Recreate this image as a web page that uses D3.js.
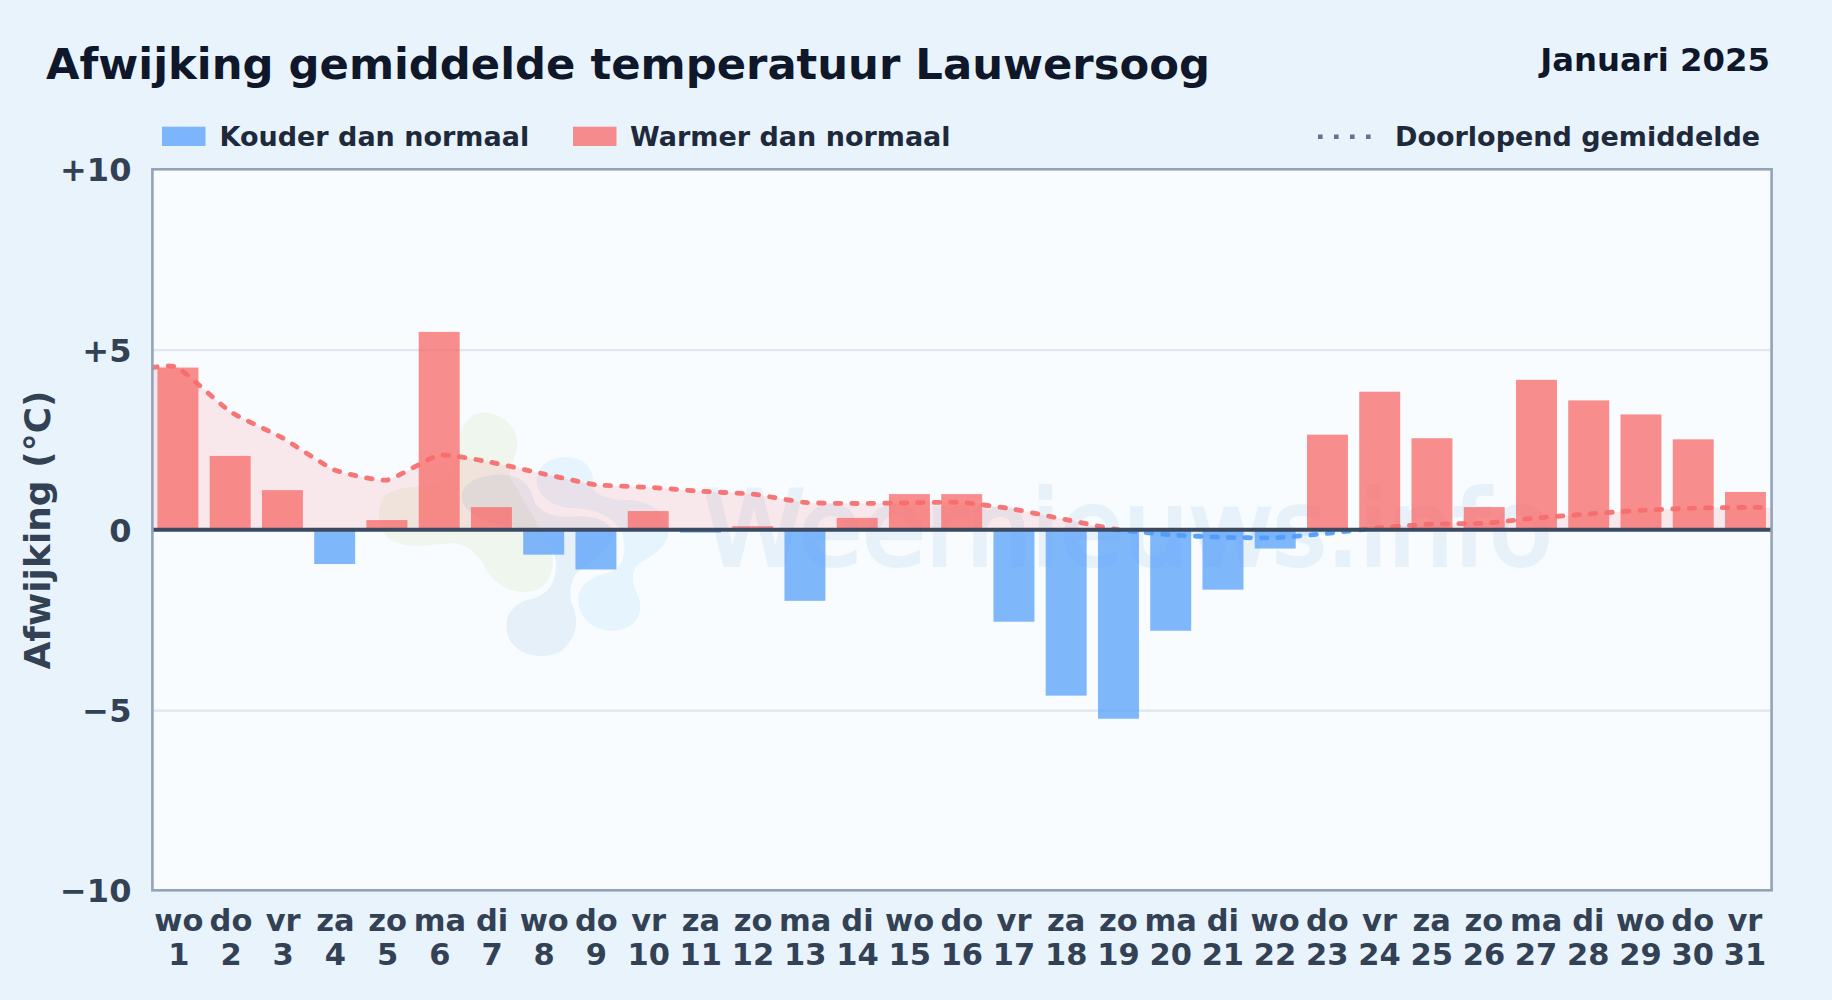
<!DOCTYPE html>
<html>
<head>
<meta charset="utf-8">
<title>Afwijking gemiddelde temperatuur Lauwersoog</title>
<script src="https://cdn.jsdelivr.net/npm/d3@7"></script>
<style>
	html, body { margin: 0; padding: 0; background: #e8f3fc; }
	svg { display: block; }
	text { font-family: "DejaVu Sans", sans-serif; font-weight: bold; }
</style>
</head>
<body>
<div id="chart"></div>
<script>
// values
const days = [1,2,3,4,5,6,7,8,9,10,11,12,13,14,15,16,17,18,19,20,21,22,23,24,25,26,27,28,29,30,31];
const dayNames = ['wo','do','vr','za','zo','ma','di','wo','do','vr','za','zo','ma','di','wo','do','vr','za','zo','ma','di','wo','do','vr','za','zo','ma','di','wo','do','vr'];
const deviation = [4.5,2.05,1.1,-0.95,0.27,5.49,0.63,-0.69,-1.1,0.52,-0.08,0.1,-1.97,0.33,0.99,0.99,-2.55,-4.6,-5.24,-2.8,-1.66,-0.52,2.64,3.83,2.54,0.63,4.16,3.59,3.2,2.51,1.05];
// running mean, stretched to both edges of the plot
const runDays = [0.5,1,2,3,4,5,6,7,8,9,10,11,12,13,14,15,16,17,18,19,20,21,22,23,24,25,26,27,28,29,30,31,31.5];
const runMean = [4.5,4.5,3.28,2.55,1.66,1.38,2.07,1.87,1.55,1.25,1.18,1.07,0.99,0.76,0.73,0.75,0.76,0.57,0.28,0,-0.14,-0.21,-0.22,-0.1,0.06,0.16,0.18,0.33,0.44,0.54,0.6,0.62,0.62];
const yTicks = [-10,-5,0,5,10];
const gridTicks = [-5,5];

let width = 1832,
	height = 1000,
	left = 152.4,
	right = 1771.6,
	top_ = 169.3,
	bottom = 890.3,
	barHalf = 0.392,
	coldColor = '#60a5fa',
	warmColor = '#f87171',
	coldLine = '#4f9bf8',
	warmLine = '#f56b6b',
	inkDark = '#0f172a',
	inkLegend = '#1e293b',
	inkAxis = '#334155';

let x = d3.scaleLinear().domain([0.5, 31.5]).range([left - 0.6, right]);
let xLabels = d3.scaleLinear().domain([0.5, 31.5]).range([152.2, 1770.5]);
let y = d3.scaleLinear().domain([-10, 10]).range([bottom, top_]);

let svg = d3.select('#chart').append('svg')
	.attr('width', width)
	.attr('height', height);

svg.append('rect').attr('width', width).attr('height', height).attr('fill', '#e8f3fc');
svg.append('rect')
	.attr('x', left).attr('y', top_)
	.attr('width', right - left).attr('height', bottom - top_)
	.attr('fill', '#f8fcff');

// clip regions above and below zero
let defs = svg.append('defs');
defs.append('clipPath').attr('id', 'above').append('rect')
	.attr('x', left).attr('y', top_)
	.attr('width', right - left).attr('height', y(0) - top_);
defs.append('clipPath').attr('id', 'below').append('rect')
	.attr('x', left).attr('y', y(0))
	.attr('width', right - left).attr('height', bottom - y(0));

// watermark logo, traced at 3x from its corner
let logo = svg.append('g').attr('transform', 'translate(360,400) scale(0.3333)');
logo.append('path')
	.attr('d', 'M370 38C430 38 475 85 472 135C470 175 445 195 450 230L560 420C590 470 585 530 540 565C490 590 420 570 385 520C360 470 330 430 270 430C210 435 130 450 85 415C50 380 45 310 85 280C120 258 170 262 215 255C270 240 290 200 295 140C298 85 320 40 370 38Z')
	.attr('fill', '#a3c95a').attr('opacity', 0.1);
logo.append('path')
	.attr('d', 'M530 240C530 195 575 170 625 172C680 175 705 215 698 255C695 280 740 300 800 300C870 300 925 340 925 395C925 440 870 470 840 490C810 510 815 550 835 590C855 640 825 690 760 692C700 695 655 650 655 600C655 560 690 530 740 520C790 510 800 460 790 410C775 360 720 330 650 325C580 325 530 290 530 240Z')
	.attr('fill', '#3aa5f0').attr('opacity', 0.09);
logo.append('path')
	.attr('d', 'M305 290C305 245 370 222 430 224C485 226 512 260 520 295C530 330 570 350 620 350C680 345 740 350 760 395C765 440 700 480 660 510C635 530 625 570 635 610C660 660 650 720 600 755C550 780 470 770 445 710C425 650 460 610 510 598C570 585 590 540 588 490C585 430 540 395 480 385C420 375 370 365 340 345C320 330 305 310 305 290Z')
	.attr('fill', '#1e6ab0').attr('opacity', 0.08);

svg.append('text')
	.attr('x', 703).attr('y', 565)
	.attr('font-size', 103)
	.attr('fill', '#2f80c8').attr('stroke', '#2f80c8').attr('stroke-width', 4)
	.style('font-weight', 'normal')
	.attr('opacity', 0.08)
	.text('Weernieuws.info');

// grid
svg.append('g')
	.attr('transform', 'translate(' + left + ',0)')
	.call(d3.axisLeft(y).tickValues(gridTicks).tickSize(-(right - left)).tickFormat(''))
	.call((g) => g.select('.domain').remove())
	.selectAll('line').attr('stroke', '#dfe6ee').attr('stroke-width', 2.2);

// area between running mean and zero
let curve = d3.curveCardinal.tension(0.5);
let area = d3.area()
	.x((d, i) => x(runDays[i]))
	.y0(y(0))
	.y1((d) => y(d))
	.curve(curve);
let line = d3.line()
	.x((d, i) => x(runDays[i]))
	.y((d) => y(d))
	.curve(curve);

svg.append('path').datum(runMean).attr('d', area)
	.attr('fill', warmColor).attr('opacity', 0.14).attr('clip-path', 'url(#above)');
svg.append('path').datum(runMean).attr('d', area)
	.attr('fill', coldColor).attr('opacity', 0.14).attr('clip-path', 'url(#below)');

// bars
svg.append('g').selectAll('rect')
	.data(deviation)
	.enter()
	.append('rect')
	.attr('x', (d, i) => x(days[i] - barHalf))
	.attr('width', (d, i) => x(days[i] + barHalf) - x(days[i] - barHalf))
	.attr('y', (d) => y(Math.max(d, 0)))
	.attr('height', (d) => Math.abs(y(d) - y(0)))
	.attr('fill', (d) => d < 0 ? coldColor : warmColor)
	.attr('opacity', 0.8);

// running mean
[['above', warmLine], ['below', coldLine]].forEach((s) => {
	svg.append('path').datum(runMean).attr('d', line)
		.attr('fill', 'none')
		.attr('stroke', s[1])
		.attr('stroke-opacity', 0.92)
		.attr('stroke-width', 4.8)
		.attr('stroke-linecap', 'round')
		.attr('stroke-dasharray', '5.5 11')
		.attr('clip-path', 'url(#' + s[0] + ')');
});

// zero line
svg.append('line')
	.attr('x1', left).attr('x2', right)
	.attr('y1', y(0)).attr('y2', y(0))
	.attr('stroke', '#3b4a60').attr('stroke-width', 4);

// plot frame
svg.append('rect')
	.attr('x', left).attr('y', top_)
	.attr('width', right - left).attr('height', bottom - top_)
	.attr('fill', 'none')
	.attr('stroke', '#94a3b8').attr('stroke-width', 2.6);

// axes
let fmt = (d) => d > 0 ? '+' + d : d < 0 ? '\u2212' + Math.abs(d) : '0';
let yAxis = svg.append('g')
	.attr('transform', 'translate(' + left + ',0)')
	.call(d3.axisLeft(y).tickValues(yTicks).tickSize(0).tickPadding(21).tickFormat(fmt));
yAxis.select('.domain').remove();
yAxis.selectAll('text')
	.attr('dy', '0.36em')
	.attr('font-family', '"DejaVu Sans", sans-serif')
	.attr('font-size', 32)
	.attr('font-weight', 'bold')
	.attr('fill', inkAxis);

let xAxis = svg.append('g')
	.attr('transform', 'translate(0,' + bottom + ')')
	.call(d3.axisBottom(xLabels).tickValues(days).tickSize(0).tickFormat(''));
xAxis.select('.domain').remove();
xAxis.selectAll('.tick text').each(function(d, i) {
	let t = d3.select(this)
		.attr('y', 0).attr('dy', null)
		.attr('font-family', '"DejaVu Sans", sans-serif')
		.attr('font-size', 30.5)
		.attr('font-weight', 'bold')
		.attr('fill', inkAxis);
	t.append('tspan').attr('x', 0).attr('y', 40.4).text(dayNames[i]);
	t.append('tspan').attr('x', 0).attr('y', 74.7).text(d);
});

svg.append('text')
	.attr('transform', 'translate(50,530) rotate(-90)')
	.attr('text-anchor', 'middle')
	.attr('font-size', 36)
	.attr('fill', inkAxis)
	.text('Afwijking (\u00b0C)');

// titles
svg.append('text')
	.attr('x', 46).attr('y', 79)
	.attr('font-size', 43.3)
	.attr('fill', inkDark)
	.text('Afwijking gemiddelde temperatuur Lauwersoog');
svg.append('text')
	.attr('x', 1770).attr('y', 70.5)
	.attr('text-anchor', 'end')
	.attr('font-size', 32.3)
	.attr('fill', inkDark)
	.text('Januari 2025');

// legend
let legend = svg.append('g');
[[162, coldColor, 219.5, 'Kouder dan normaal'], [573, warmColor, 630, 'Warmer dan normaal']].forEach((l) => {
	legend.append('rect')
		.attr('x', l[0]).attr('y', 126.7)
		.attr('width', 43.5).attr('height', 19.3)
		.attr('fill', l[1]).attr('opacity', 0.8);
	legend.append('text')
		.attr('x', l[2]).attr('y', 145.5)
		.attr('font-size', 27)
		.attr('fill', inkLegend)
		.text(l[3]);
});
legend.append('line')
	.attr('x1', 1318).attr('x2', 1376)
	.attr('y1', 136.7).attr('y2', 136.7)
	.attr('stroke', '#64748b')
	.attr('stroke-width', 4.6)
	.attr('stroke-dasharray', '4.6 11.4');
legend.append('text')
	.attr('x', 1395).attr('y', 145.5)
	.attr('font-size', 27)
	.attr('fill', inkLegend)
	.text('Doorlopend gemiddelde');
</script>
</body>
</html>
